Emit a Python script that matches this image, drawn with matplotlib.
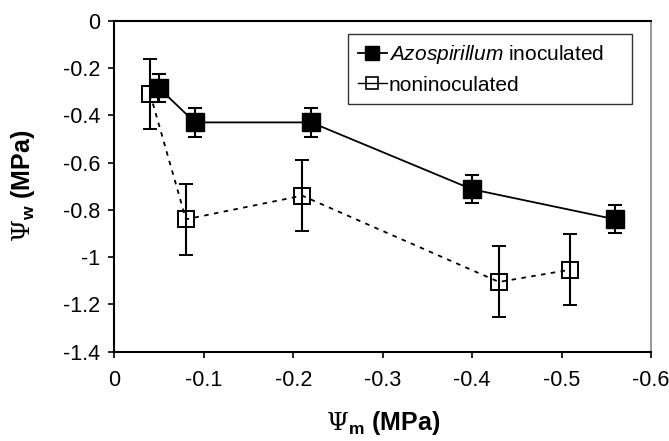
import numpy as np
import matplotlib
matplotlib.use('Agg')
import matplotlib.pyplot as plt
from matplotlib.lines import Line2D

plt.rcParams['font.family'] = ['Liberation Sans', 'DejaVu Sans']
plt.rcParams['mathtext.fontset'] = 'custom'
plt.rcParams['mathtext.rm'] = 'DejaVu Serif'
plt.rcParams['mathtext.bf'] = 'Liberation Sans:bold'
plt.rcParams['mathtext.it'] = 'Liberation Sans:italic'

# data
psi_m_inoc = [-0.05, -0.09, -0.22, -0.40, -0.56]
psi_w_inoc = [-0.285, -0.43, -0.43, -0.713, -0.84]
err_inoc = [0.06, 0.06, 0.06, 0.06, 0.06]

psi_m_non = [-0.04, -0.08, -0.21, -0.43, -0.51]
psi_w_non = [-0.31, -0.84, -0.74, -1.105, -1.053]
err_non = [0.148, 0.15, 0.15, 0.15, 0.15]

fig = plt.figure(figsize=(6.69, 4.41), dpi=100)
ax = fig.add_axes([0.171, 0.2025, 0.802, 0.7505])

dots = (0, (2.5, 3))
ax.errorbar(psi_m_inoc, psi_w_inoc, yerr=err_inoc, color='black', lw=1.3,
            marker='s', ms=13, mfc='black', mec='black',
            ecolor='black', elinewidth=1.5, capsize=5, capthick=1.5)
ax.errorbar(psi_m_non, psi_w_non, yerr=err_non, color='black', lw=1.3,
            ls=dots, marker='s', ms=11, mfc='none', mec='black', mew=1.4,
            ecolor='black', elinewidth=1.5, capsize=5, capthick=1.5)

ax.set_xlim(0, -0.6)
ax.set_ylim(-1.4, 0)
ax.set_xticks(np.arange(0, -0.61, -0.1))
ax.set_yticks(np.arange(-1.4, 0.01, 0.2))
ax.set_xticklabels(['0', '-0.1', '-0.2', '-0.3', '-0.4', '-0.5', '-0.6'])
ax.set_yticklabels(['-1.4', '-1.2', '-1', '-0.8', '-0.6', '-0.4', '-0.2', '0'])
ax.tick_params(direction='out', length=4, width=1.2, labelsize=15.5)
ax.tick_params(axis='x', pad=9)
ax.tick_params(axis='y', pad=6)

for s in ['left', 'bottom', 'top']:
    ax.spines[s].set_linewidth(1.5)
ax.spines['right'].set_color('#888888')
ax.spines['right'].set_linewidth(1.2)

ax.set_xlabel(r'$\Psi_{\mathbf{m}}$ (MPa)', fontsize=18, fontweight='bold', labelpad=13)
ax.set_ylabel(r'$\Psi_{\mathbf{w}}$ (MPa)', fontsize=18, fontweight='bold', labelpad=19)

handles = [
    Line2D([], [], color='black', lw=1.3, marker='s', ms=10, mfc='black', mec='black'),
    Line2D([], [], color='black', lw=1.0, marker='s', ms=9, mfc='none', mec='black', mew=1.2),
]
labels = [r'$\mathit{Azospirillum}$ inoculated    ', 'noninoculated']
leg = ax.legend(handles, labels, loc='upper right', bbox_to_anchor=(0.965, 0.96),
                fontsize=15, frameon=True, fancybox=False, edgecolor='black',
                handlelength=1.4, handletextpad=0.1, borderpad=0.45,
                labelspacing=0.45, borderaxespad=0)
leg.get_frame().set_linewidth(1.0)

fig.savefig('out.png', dpi=100)
